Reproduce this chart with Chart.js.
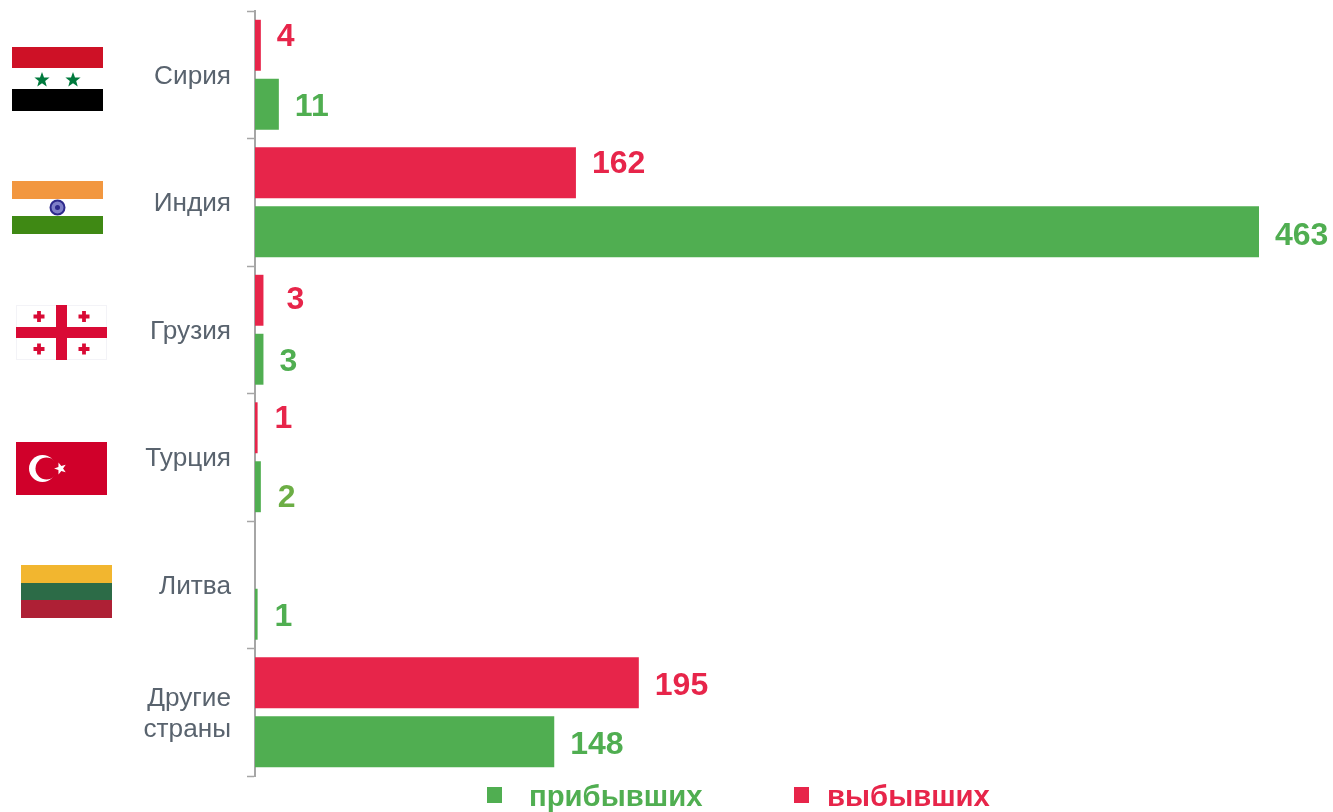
<!DOCTYPE html>
<html lang="ru">
<head>
<meta charset="utf-8">
<title>Прибывшие и выбывшие по странам</title>
<script src="https://cdn.jsdelivr.net/npm/chart.js@4/dist/chart.umd.min.js"></script>
<style>
  html, body { margin: 0; padding: 0; background: #fff; }
  #wrap { position: relative; width: 1333px; height: 812px; overflow: hidden; }
  canvas { position: absolute; left: 0; top: 0; }
  .flag { position: absolute; left: 0; top: 0; }
</style>
</head>
<body>
<div id="wrap">
  <canvas id="migrationChart" width="1333" height="812"></canvas>
  <!-- Флаги -->
  <svg class="flag" width="300" height="640" viewBox="0 0 300 640">
    <defs>
      <polygon id="star" points="0,-8 2,-2.6 7.6,-2.5 3.2,1 4.7,6.5 0,3.2 -4.7,6.5 -3.2,1 -7.6,-2.5 -2,-2.6"/>
    </defs>
    <!-- Сирия -->
    <rect x="12" y="47" width="91" height="21" fill="#ce1126"/>
    <rect x="12" y="89" width="91" height="22" fill="#000"/>
    <use href="#star" x="42" y="80" fill="#007a3d"/>
    <use href="#star" x="73" y="80" fill="#007a3d"/>
    <!-- Индия -->
    <rect x="12" y="181" width="91" height="18" fill="#f29740"/>
    <rect x="12" y="216" width="91" height="18" fill="#3f8914"/>
    <circle cx="57.5" cy="207.5" r="7" fill="#7f7fc8" stroke="#2e2a8c" stroke-width="2"/>
    <circle cx="57.5" cy="207.5" r="2.5" fill="#2e2a8c"/>
    <!-- Грузия -->
    <rect x="16.5" y="305.5" width="90" height="54" fill="#fff" stroke="#f3f3f7"/>
    <rect x="56" y="305" width="11" height="55" fill="#d90a35"/>
    <rect x="16" y="327" width="91" height="11" fill="#d90a35"/>
    <path d="M39 311v11M33.5 316.5h11M84 311v11M78.5 316.5h11M39 343.5v11M33.5 349h11M84 343.5v11M78.5 349h11" stroke="#d90a35" stroke-width="3.8" fill="none"/>
    <!-- Турция -->
    <rect x="16" y="442" width="91" height="53" fill="#d0002a"/>
    <circle cx="42.5" cy="468.5" r="13.5" fill="#fff"/>
    <circle cx="46.5" cy="468.5" r="11" fill="#d0002a"/>
    <use href="#star" x="0" y="0" transform="translate(60.5 468.5) rotate(-90) scale(0.8)" fill="#fff"/>
    <!-- Литва -->
    <rect x="21" y="565" width="91" height="18" fill="#f2b62f"/>
    <rect x="21" y="583" width="91" height="17" fill="#2c6b47"/>
    <rect x="21" y="600" width="91" height="18" fill="#ae2035"/>
  </svg>
</div>

<script>
// Данные графика
const countries = ["Сирия", "Индия", "Грузия", "Турция", "Литва", ["Другие", "страны"]];

// Длины столбцов
const departedBars = [2.7, 148, 3.9, 1.2, null, 177];
const arrivedBars = [11, 463, 3.9, 2.7, 1.2, 138];

// Подписи, как они напечатаны на картинке
const departedLabels = ["4", "162", "3", "1", "", "195"];
const arrivedLabels = ["11", "463", "3", "2", "1", "148"];

const RED = "#e7254a";
const GREEN = "#50ae51";
const labelFont = "bold 32px 'Liberation Sans', Arial, sans-serif";

// Сдвиги подписей относительно конца столбца
const departedNudge = [[16, -8], [16, -9], [23, 0], [17, -9], [0, 0], [16, 3]];
const arrivedNudge = [[16, 3], [16, 4], [16, 3], [17, 11], [17, 3], [16, 3]];

const valueLabelsPlugin = {
  id: "valueLabels",
  afterDatasetsDraw(chart) {
    const ctx = chart.ctx;
    const sets = [
      { labels: departedLabels, nudge: departedNudge, color: RED },
      { labels: arrivedLabels, nudge: arrivedNudge, color: GREEN },
    ];
    ctx.save();
    ctx.font = labelFont;
    ctx.textAlign = "left";
    ctx.textBaseline = "middle";
    sets.forEach((set, i) => {
      chart.getDatasetMeta(i).data.forEach((bar, j) => {
        if (!set.labels[j]) return;
        ctx.fillStyle = set.labels[j] === "2" ? "#6cae45" : set.color;
        ctx.fillText(set.labels[j], bar.x + set.nudge[j][0], bar.y + set.nudge[j][1]);
      });
    });
    ctx.restore();
  },
};

// Легенда снизу: зелёная идёт первой, хотя в столбцах первым идёт красный
const bottomLegendPlugin = {
  id: "bottomLegend",
  afterDraw(chart) {
    const ctx = chart.ctx;
    const items = [
      { text: "прибывших", color: GREEN, box: 487, textX: 529 },
      { text: "выбывших", color: RED, box: 794, textX: 827 },
    ];
    ctx.save();
    ctx.font = "bold 29.3px 'Liberation Sans', Arial, sans-serif";
    ctx.textBaseline = "alphabetic";
    items.forEach((item) => {
      ctx.fillStyle = item.color;
      ctx.fillRect(item.box, 787, 15, 16);
      ctx.fillText(item.text, item.textX, 806);
    });
    ctx.restore();
  },
};

new Chart(document.getElementById("migrationChart"), {
  type: "bar",
  data: {
    labels: countries,
    datasets: [
      {
        label: "выбывших",
        data: departedBars,
        backgroundColor: RED,
        categoryPercentage: 0.925,
        barPercentage: 0.864,
      },
      {
        label: "прибывших",
        data: arrivedBars,
        backgroundColor: GREEN,
        categoryPercentage: 0.925,
        barPercentage: 0.864,
      },
    ],
  },
  plugins: [valueLabelsPlugin, bottomLegendPlugin],
  options: {
    indexAxis: "y",
    responsive: false,
    animation: false,
    layout: {
      padding: { top: 11, bottom: 36, right: 74, left: 0 },
    },
    plugins: {
      legend: { display: false },
      tooltip: { enabled: false },
    },
    scales: {
      x: {
        display: false,
        min: 0,
        max: 463,
      },
      y: {
        afterFit(scale) {
          scale.width = 255;
          // подпись в две строки не должна сжимать область графика
          scale.paddingTop = 0;
          scale.paddingBottom = 0;
        },
        border: { color: "#a6a6a6", width: 2 },
        grid: {
          offset: true,
          drawOnChartArea: false,
          tickLength: 8,
          tickColor: "#a6a6a6",
          tickWidth: 1.5,
        },
        ticks: {
          color: "#59636e",
          padding: 16,
          labelOffset: 2,
          font: { family: "'Liberation Sans', Arial, sans-serif", size: 26.2, lineHeight: 1.18 },
        },
      },
    },
  },
});
</script>
</body>
</html>
